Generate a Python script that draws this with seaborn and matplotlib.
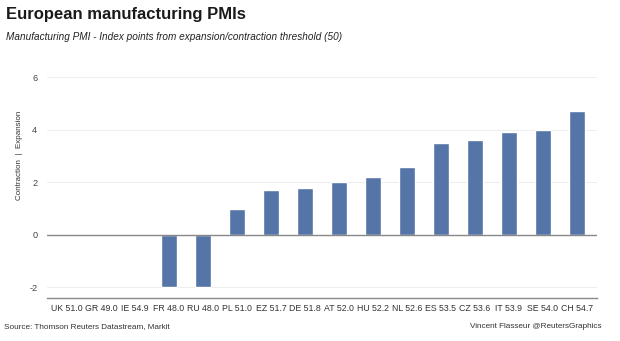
import numpy as np
import pandas as pd
import matplotlib
matplotlib.use("Agg")
import matplotlib.pyplot as plt
import seaborn as sns

# Data
countries = ["UK 51.0", "GR 49.0", "IE 54.9", "FR 48.0", "RU 48.0", "PL 51.0",
             "EZ 51.7", "DE 51.8", "AT 52.0", "HU 52.2", "NL 52.6", "ES 53.5",
             "CZ 53.6", "IT 53.9", "SE 54.0", "CH 54.7"]
values = [np.nan, np.nan, np.nan, -2.0, -2.0, 1.0, 1.7, 1.8, 2.0, 2.2, 2.6,
          3.5, 3.6, 3.9, 4.0, 4.7]
yticks = [-2, 0, 2, 4, 6]

df = pd.DataFrame({"country": countries, "value": values})

sns.set_theme(style="white")
plt.rcParams["font.family"] = ["Liberation Sans", "DejaVu Sans"]

fig = plt.figure(figsize=(6.2, 3.41), dpi=100)
ax = fig.add_axes([47/620, 1 - 298/341, (597 - 47)/620, (298 - 68)/341])

sns.barplot(data=df, x="country", y="value", color="#5574a7", width=0.47,
            saturation=1, ax=ax, order=countries)

ax.set_xlim(-0.59, 15.59)
ax.set_ylim(-2.4, 6.35)
ax.set_yticks(yticks)
ax.set_yticklabels([str(t) for t in yticks], fontsize=6.6, color="#444444")
for t in [-2, 2, 4, 6]:
    ax.axhline(t, color="#eeeeee", lw=0.8, zorder=0)
ax.axhline(0, color="#888888", lw=1.0, zorder=3)

ax.set_xlabel("")
ax.set_ylabel("")
ax.tick_params(axis="x", labelsize=6.3, colors="#444444", direction="inout",
               length=5, width=0.8, color="#888888", pad=2)
ax.tick_params(axis="y", length=0, pad=7)
for lab in ax.get_xticklabels():
    lab.set_color("#333333")
for s in ["top", "right", "left"]:
    ax.spines[s].set_visible(False)
ax.spines["bottom"].set_color("#888888")
ax.spines["bottom"].set_linewidth(1.0)

fig.text(20/620, 1 - 155/341, "Contraction  |  Expansion", rotation=90,
         ha="center", va="center", fontsize=5.8, color="#333333")

fig.text(6/620, 1 - 15/341, "European manufacturing PMIs", fontsize=12,
         fontweight="bold", color="#1a1a1a", ha="left", va="center")
fig.text(6/620, 1 - 37/341,
         "Manufacturing PMI - Index points from expansion/contraction threshold (50)",
         fontsize=7.2, style="italic", color="#222222", ha="left", va="center")
fig.text(4/620, 1 - 327/341, "Source: Thomson Reuters Datastream, Markit",
         fontsize=5.9, color="#333333", ha="left", va="center")
fig.text(602/620, 1 - 327/341, "Vincent Flasseur @ReutersGraphics",
         fontsize=5.9, color="#333333", ha="right", va="center")

fig.savefig("out.png", dpi=100)
